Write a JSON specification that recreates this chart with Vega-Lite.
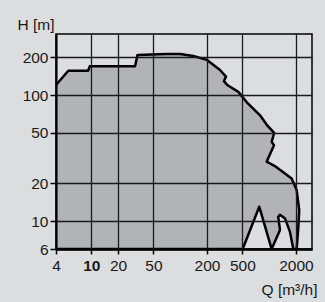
{
  "$schema": "https://vega.github.io/schema/vega-lite/v6.json",
  "width": 256,
  "height": 215,
  "autosize": "none",
  "padding": {"left": 56, "top": 34, "right": 13, "bottom": 53},
  "background": "#dcdddf",
  "config": {
    "view": {"stroke": "#000", "strokeWidth": 1.5},
    "axis": {
      "labelFont": "Liberation Sans",
      "titleFont": "Liberation Sans",
      "labelFontSize": 15.5,
      "titleFontSize": 15.5,
      "titleFontWeight": "normal",
      "labelColor": "#1a1a1a",
      "titleColor": "#1a1a1a",
      "gridColor": "#1a1a1a",
      "gridWidth": 1.3,
      "gridOpacity": 1,
      "tickColor": "#000",
      "tickWidth": 1.5,
      "domainColor": "#000"
    }
  },
  "data": {
    "values": [
      {"i": 1, "q": 4, "h": 120},
      {"i": 2, "q": 5.5, "h": 156},
      {"i": 3, "q": 9.2, "h": 156},
      {"i": 4, "q": 9.6, "h": 169},
      {"i": 5, "q": 31, "h": 169},
      {"i": 6, "q": 33, "h": 208},
      {"i": 7, "q": 70, "h": 212},
      {"i": 8, "q": 100, "h": 212},
      {"i": 9, "q": 140, "h": 204},
      {"i": 10, "q": 200, "h": 190},
      {"i": 11, "q": 280, "h": 158},
      {"i": 12, "q": 327, "h": 140},
      {"i": 13, "q": 310, "h": 129},
      {"i": 14, "q": 338, "h": 120},
      {"i": 15, "q": 450, "h": 106},
      {"i": 16, "q": 558, "h": 88},
      {"i": 17, "q": 790, "h": 69},
      {"i": 18, "q": 940, "h": 58},
      {"i": 19, "q": 1140, "h": 50},
      {"i": 20, "q": 1067, "h": 42.6},
      {"i": 21, "q": 1133, "h": 40},
      {"i": 22, "q": 938, "h": 29.6},
      {"i": 23, "q": 1160, "h": 27.3},
      {"i": 24, "q": 1790, "h": 21.8},
      {"i": 25, "q": 2040, "h": 17.6},
      {"i": 26, "q": 2180, "h": 12.2},
      {"i": 27, "q": 2130, "h": 9},
      {"i": 28, "q": 2040, "h": 6},
      {"i": 29, "q": 1870, "h": 6},
      {"i": 30, "q": 1715, "h": 8.2},
      {"i": 31, "q": 1507, "h": 10.5},
      {"i": 32, "q": 1320, "h": 11.2},
      {"i": 33, "q": 1266, "h": 10.8},
      {"i": 34, "q": 1324, "h": 8.5},
      {"i": 35, "q": 1067, "h": 6},
      {"i": 36, "q": 774, "h": 13},
      {"i": 37, "q": 504, "h": 6},
      {"i": 38, "q": 4, "h": 6}
    ]
  },
  "mark": {"type": "line", "fill": "#b1b3b6", "stroke": "#000", "strokeWidth": 2.5, "strokeJoin": "round", "clip": true},
  "encoding": {
    "x": {
      "field": "q", "type": "quantitative",
      "scale": {"type": "log", "domain": [4, 3035], "nice": false, "zero": false},
      "axis": {
        "zindex": 1,
        "values": [4, 10, 20, 50, 200, 500, 2000],
        "format": "d",
        "labelFlush": false,
        "labelOverlap": false,
        "tickSize": 5,
        "labelPadding": 4,
        "domainWidth": 2.5,
        "labelFontWeight": {"condition": {"test": "datum.value == 10", "value": 600}, "value": "normal"},
        "title": "Q [m³/h]",
        "titleAnchor": null,
        "titleAlign": "right",
        "titleX": 261,
        "titleY": 45,
        "titleBaseline": "alphabetic"
      }
    },
    "y": {
      "field": "h", "type": "quantitative",
      "scale": {"type": "log", "domain": [6, 305], "nice": false, "zero": false},
      "axis": {
        "zindex": 1,
        "values": [6, 10, 20, 50, 100, 200],
        "format": "d",
        "labelFlush": false,
        "labelOverlap": false,
        "tickSize": 6,
        "labelPadding": 2,
        "domainWidth": 2,
        "title": "H [m]",
        "titleAngle": 0,
        "titleAlign": "left",
        "titleX": -39,
        "titleY": -5,
        "titleBaseline": "alphabetic"
      }
    },
    "order": {"field": "i", "type": "quantitative"}
  }
}
